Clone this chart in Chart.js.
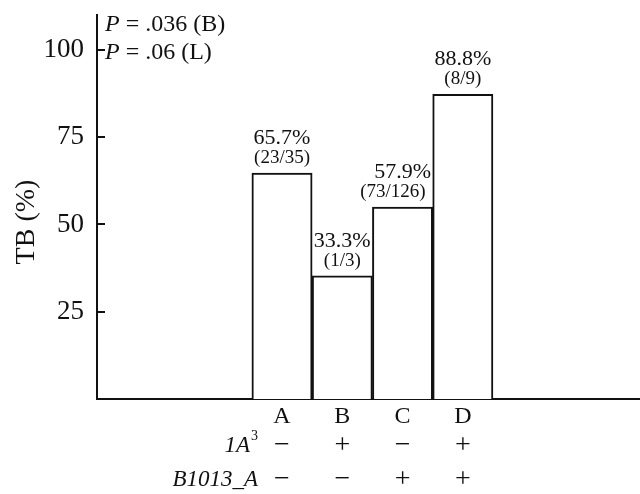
<!DOCTYPE html>
<html>
<head>
<meta charset="utf-8">
<script src="https://cdn.jsdelivr.net/npm/chart.js@4"></script>
<style>
  html, body { margin: 0; background: #fff; }
</style>
</head>
<body>
<canvas id="chart" width="640" height="494"></canvas>
<script>
const groups = ["A", "B", "C", "D"];
const positions = [1, 2, 3, 4];
const heights = [64.7, 35.3, 55, 87.3];
const pctLabels = ["65.7%", "33.3%", "57.9%", "88.8%"];
const fracLabels = ["(23/35)", "(1/3)", "(73/126)", "(8/9)"];
const row1 = ["\u2212", "+", "\u2212", "+"];
const row2 = ["\u2212", "\u2212", "+", "+"];
const yTicks = [25, 50, 75, 100];
const pNotes = [[" = .036 (B)"], [" = .06 (L)"]];

const serif = "'Liberation Serif', 'Times New Roman', serif";
const ink = "#111";

const extras = {
  id: "extras",
  afterDraw(chart) {
    const ctx = chart.ctx;
    const xs = chart.scales.x;
    const ys = chart.scales.y;
    const area = chart.chartArea;
    ctx.save();
    ctx.fillStyle = ink;
    ctx.strokeStyle = ink;
    ctx.lineWidth = 2;

    // inward tick marks
    yTicks.forEach((v) => {
      const py = Math.round(ys.getPixelForValue(v));
      ctx.beginPath();
      ctx.moveTo(area.left, py);
      ctx.lineTo(area.left + 8, py);
      ctx.stroke();
    });

    // labels above bars
    ctx.textAlign = "center";
    ctx.textBaseline = "middle";
    chart.getDatasetMeta(0).data.forEach((bar, i) => {
      ctx.font = "22px " + serif;
      ctx.fillText(pctLabels[i], bar.x, bar.y - 35);
      ctx.font = "19px " + serif;
      const w = ctx.measureText(fracLabels[i]).width;
      // keep a wide label clear of the next bar's edge
      const cx = w > bar.width ? bar.x + bar.width / 2 - 7 - w / 2 : bar.x;
      ctx.fillText(fracLabels[i], cx, bar.y - 15);
    });

    // +/- rows under the categories
    ctx.font = "28px " + serif;
    positions.forEach((p, i) => {
      const px = xs.getPixelForValue(p);
      ctx.fillText(row1[i], px, 446);
      ctx.fillText(row2[i], px, 480);
    });

    // row names, right aligned
    const right = xs.getPixelForValue(positions[0]) - 24;
    ctx.textAlign = "right";
    ctx.font = "14px " + serif;
    const supW = ctx.measureText("3").width;
    ctx.fillText("3", right, 436);
    ctx.font = "italic 23px " + serif;
    ctx.fillText("1A", right - supW - 1, 446);
    ctx.fillText("B1013_A", right, 480);

    // P values
    ctx.textAlign = "left";
    pNotes.forEach((note, i) => {
      const py = 25 + i * 28;
      ctx.font = "italic 24px " + serif;
      ctx.fillText("P", area.left + 8, py);
      const pw = ctx.measureText("P").width;
      ctx.font = "24px " + serif;
      ctx.fillText(note[0], area.left + 8 + pw, py);
    });

    // y title
    ctx.translate(27, 222);
    ctx.rotate(-Math.PI / 2);
    ctx.textAlign = "center";
    ctx.font = "28px " + serif;
    ctx.fillText("TB (%)", 0, 0);
    ctx.restore();
  },
};

new Chart(document.getElementById("chart"), {
  type: "bar",
  data: {
    datasets: [
      {
        data: positions.map((p, i) => ({ x: p, y: heights[i] })),
        backgroundColor: "#fff",
        borderColor: ink,
        borderWidth: 2,
        barPercentage: 1,
        categoryPercentage: 1,
      },
    ],
  },
  options: {
    responsive: false,
    animation: false,
    devicePixelRatio: 1,
    layout: { padding: { top: 15, right: 0, left: 0, bottom: 0 } },
    plugins: { legend: { display: false }, tooltip: { enabled: false } },
    scales: {
      x: {
        type: "linear",
        min: -2.07,
        max: 6.94,
        offset: false,
        grid: { display: false, drawTicks: false },
        border: { color: ink, width: 2 },
        afterBuildTicks: (s) => {
          s.ticks = positions.map((v) => ({ value: v }));
        },
        afterFit: (s) => {
          s.height = 95;
          s.paddingLeft = 0;
          s.paddingRight = 0;
        },
        ticks: {
          autoSkip: false,
          maxRotation: 0,
          padding: 3,
          color: ink,
          font: { family: serif, size: 24 },
          callback: (v) => groups[positions.indexOf(v)] || "",
        },
      },
      y: {
        min: 0,
        max: 110,
        grid: { display: false, drawTicks: false },
        border: { color: ink, width: 2 },
        afterFit: (s) => {
          s.width = 97;
          s.paddingTop = 0;
          s.paddingBottom = 0;
        },
        ticks: {
          stepSize: 25,
          padding: 13,
          color: ink,
          font: { family: serif, size: 27 },
          callback: (v) => (yTicks.includes(v) ? v : ""),
        },
      },
    },
  },
  plugins: [extras],
});
</script>
</body>
</html>
